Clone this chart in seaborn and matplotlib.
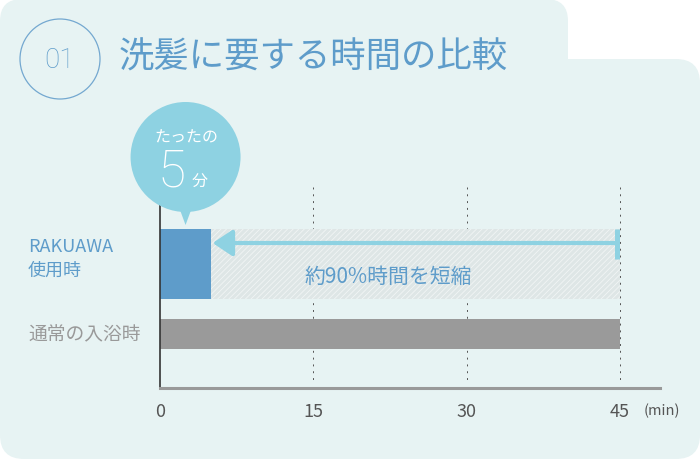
import matplotlib
matplotlib.use("Agg")
import matplotlib.pyplot as plt
import matplotlib.transforms as mtransforms
from matplotlib.patches import FancyBboxPatch, Circle, Polygon
import seaborn as sns
import pandas as pd

# データ
categories = ["RAKUAWA\n使用時", "通常の入浴時"]
minutes = [5, 45]
x_ticks = [0, 15, 30, 45]
title = "洗髪に要する時間の比較"
number = "01"
reduction_label = "約90%時間を短縮"
bubble_top = "たったの"
bubble_value = "5"
bubble_unit = "分"
unit_label = "(min)"

BLUE = "#5E9CCA"
GRAY = "#9A9A9A"
LIGHT_BLUE = "#8ED2E2"
BG = "#E7F3F3"

sns.set_theme(style="white")
plt.rcParams["font.family"] = ["Noto Sans CJK JP", "DejaVu Sans"]

df = pd.DataFrame({"category": categories, "minutes": minutes})

fig = plt.figure(figsize=(7, 4.6), dpi=100)
fig.patch.set_facecolor("white")

# 背景 (ピクセル座標)
bg = fig.add_axes([0, 0, 1, 1], zorder=0)
bg.set_xlim(0, 700)
bg.set_ylim(460, 0)
bg.axis("off")
bg.add_patch(FancyBboxPatch((0, 0), 568, 140, boxstyle="round,pad=0,rounding_size=22",
                            facecolor=BG, edgecolor="none"))
bg.add_patch(FancyBboxPatch((0, 60), 700, 400, boxstyle="round,pad=0,rounding_size=24",
                            facecolor=BG, edgecolor="none"))

# メインの軸
ax = fig.add_axes([160 / 700, 1 - 389 / 460, 500 / 700, 201 / 460], zorder=1)
ax.set_facecolor("none")

sns.barplot(data=df, x="minutes", y="category", hue="category",
            palette=[BLUE, GRAY], width=1.0, saturation=1, legend=False,
            ax=ax, zorder=2)
# 通常の入浴時のバーは細め
gray_height = 30 / 70
for i, cont in enumerate(ax.containers):
    for p in cont:
        if i == 1:
            p.set_y(1 - gray_height / 2)
            p.set_height(gray_height)
        p.set_linewidth(0)

# 短縮された部分 (斜線)
plt.rcParams["hatch.linewidth"] = 0.6
ax.barh(0, minutes[1] - minutes[0], left=minutes[0], height=1.0,
        color="#DEE6E6", hatch="//////", edgecolor="#F1F5F5", linewidth=0, zorder=1)

# グリッド (点線)
ax.vlines(x_ticks[1:], -77 / 70, 120 / 70, colors="#555555",
          linestyles=(0, (2, 5)), linewidth=0.7, zorder=0.5)

ax.set_xlim(0, 45 * 500 / 460)
ax.set_ylim(124 / 70, -77 / 70)

# 矢印
arrow_y = -21 / 70
ax.annotate("", xy=(minutes[0] + 0.15, arrow_y), xytext=(minutes[1] - 0.3, arrow_y),
            arrowprops=dict(arrowstyle="-|>,head_length=0.6,head_width=0.4",
                            color=LIGHT_BLUE, lw=3, shrinkA=0, shrinkB=0,
                            mutation_scale=20), zorder=3)
ax.vlines(minutes[1] - 0.25, -0.5, -5 / 70, colors=LIGHT_BLUE, linewidth=3.6, zorder=3)

ax.text(22.3, 12 / 70, reduction_label, ha="center", va="center",
        fontsize=15, color=BLUE, zorder=4)

# 軸
for s in ["top", "right"]:
    ax.spines[s].set_visible(False)
ax.spines["left"].set_color("#333333")
ax.spines["left"].set_linewidth(1.2)
ax.spines["bottom"].set_color("#999999")
ax.spines["bottom"].set_linewidth(2.2)
ax.set_xticks(x_ticks)
ax.set_xticklabels([str(t) for t in x_ticks])
ax.tick_params(axis="x", length=0, pad=10, labelsize=13, labelcolor="#555555")
ax.set_yticks([])
ax.set_xlabel("")
ax.set_ylabel("")
ax.annotate(unit_label, xy=(45, 0), xycoords=("data", "axes fraction"),
            xytext=(24, -22), textcoords="offset pixels", ha="left", va="center",
            fontsize=10.5, color="#555555")

# カテゴリのラベル
trans = mtransforms.blended_transform_factory(fig.transFigure, ax.transData)
ax.text(28 / 700, -6 / 70, categories[0], transform=trans, ha="left", va="center",
        fontsize=13, color=BLUE, linespacing=1.45)
ax.text(28 / 700, 1, categories[1], transform=trans, ha="left", va="center",
        fontsize=13.5, color="#999999")

# 前面 (吹き出し・タイトル)
fg = fig.add_axes([0, 0, 1, 1], zorder=5)
fg.set_xlim(0, 700)
fg.set_ylim(460, 0)
fg.axis("off")

fig.canvas.draw()
tip = ax.transData.transform((minutes[0] / 2, -0.5))
tip_x, tip_y = tip[0], 460 - tip[1]
cx, cy, r = tip_x, 158, 55
fg.add_patch(Circle((cx, cy), r, facecolor=LIGHT_BLUE, edgecolor="none"))
fg.add_patch(Polygon([(cx - 7, cy + r - 6), (cx + 7, cy + r - 6), (tip_x, tip_y - 4)],
                     facecolor=LIGHT_BLUE, edgecolor="none"))
fg.text(cx + 0.5, 138, bubble_top, ha="center", va="center", fontsize=11.5, color="white")
fg.text(cx - 14, 187, bubble_value, ha="center", va="baseline", fontsize=37,
        color="white", fontweight="light", family=["Roboto", "DejaVu Sans"])
fg.text(cx + 14, 187, bubble_unit, ha="center", va="baseline", fontsize=11.5, color="white")

fg.add_patch(Circle((60, 60), 40, facecolor="none", edgecolor="#74A8D0", linewidth=0.9))
fg.text(60, 61, number, ha="center", va="center", fontsize=20, color=BLUE,
        fontweight="light", family=["Roboto", "DejaVu Sans"])
fg.text(119, 58, title, ha="left", va="center", fontsize=25.5, color=BLUE)

fig.savefig("out.png", dpi=100)
